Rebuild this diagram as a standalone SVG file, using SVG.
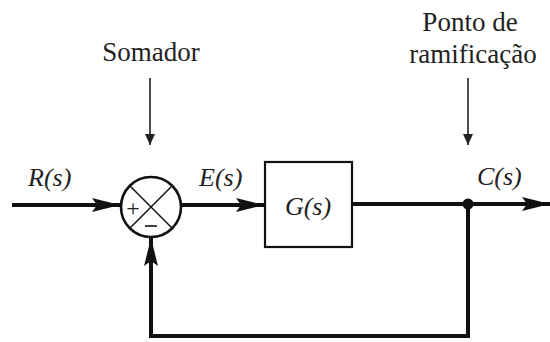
<svg xmlns="http://www.w3.org/2000/svg" width="550" height="342" viewBox="0 0 550 342">
<style>
text{font-family:"Liberation Serif","Times New Roman","DejaVu Serif",serif;font-size:27px;fill:#222}
.it{font-style:italic;font-size:26px}
.thick{stroke:#111;stroke-width:4;fill:none}
.thin{stroke:#222;stroke-width:1.6;fill:none}
</style>
<defs>
<marker id="big" markerUnits="userSpaceOnUse" markerWidth="30" markerHeight="16" refX="28" refY="8" orient="auto">
<path d="M0,1 L28,8 L0,15 L5,8 Z" fill="#111"/>
</marker>
<marker id="small" markerUnits="userSpaceOnUse" markerWidth="12" markerHeight="22" refX="11" refY="5" orient="auto">
<path d="M0,0 L11,5 L0,10 Z" fill="#222"/>
</marker>
</defs>
<rect width="550" height="342" fill="#fff"/>
<g id="labels">
<text x="151" y="61" text-anchor="middle">Somador</text>
<text x="470" y="31" text-anchor="middle">Ponto de</text>
<text x="473" y="63" text-anchor="middle">ramificação</text>
<text class="it" x="28" y="186">R(s)</text>
<text class="it" x="199" y="186">E(s)</text>
<text class="it" x="477" y="185">C(s)</text>
</g>
<g id="sum">
<circle cx="151" cy="207" r="30" fill="#fff" stroke="#111" stroke-width="2.6"/>
<line x1="129.8" y1="185.8" x2="172.2" y2="228.2" stroke="#111" stroke-width="1.5"/>
<line x1="172.2" y1="185.8" x2="129.8" y2="228.2" stroke="#111" stroke-width="1.5"/>
<text x="133" y="216" text-anchor="middle" style="font-size:24px">+</text>
<line x1="145" y1="226" x2="157" y2="226" stroke="#111" stroke-width="1.6"/>
</g>
<g id="G">
<rect x="265" y="162" width="87" height="85" fill="#fff" stroke="#111" stroke-width="2.2"/>
<text class="it" x="308" y="215" text-anchor="middle">G(s)</text>
</g>
<g id="junction">
<circle cx="468" cy="204" r="5.5" fill="#111"/>
</g>
<g id="connectors">
<line class="thick" x1="12" y1="205" x2="120" y2="205" marker-end="url(#big)"/>
<line class="thick" x1="181" y1="205" x2="264" y2="205" marker-end="url(#big)"/>
<line class="thick" x1="352" y1="204" x2="550" y2="204" marker-end="url(#big)"/>
<polyline class="thick" points="468,204 468,336 151,336 151,238" marker-end="url(#big)"/>
<line class="thin" x1="150" y1="78" x2="150" y2="145" marker-end="url(#small)"/>
<line class="thin" x1="468" y1="78" x2="468" y2="145" marker-end="url(#small)"/>
</g>
</svg>
